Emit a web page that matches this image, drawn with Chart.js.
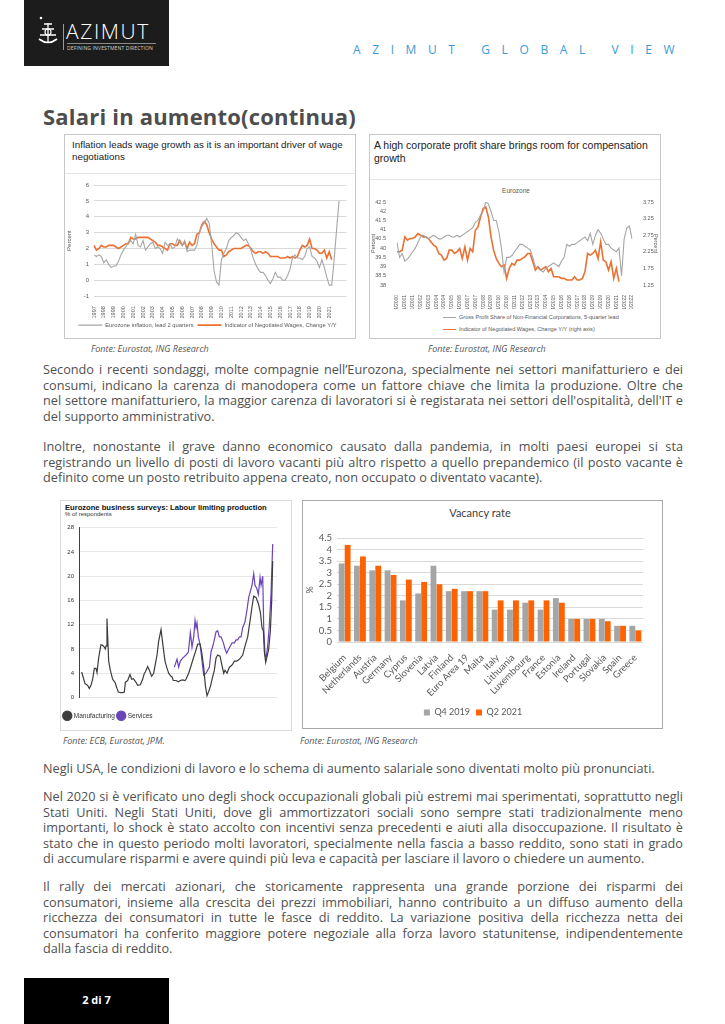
<!DOCTYPE html>
<html><head><meta charset="utf-8">
<script src="https://cdn.jsdelivr.net/npm/chart.js@4.4.1/dist/chart.umd.min.js"></script>
<style>
html,body{margin:0;padding:0;background:#fff;}
#page{position:relative;width:725px;height:1024px;overflow:hidden;font-family:'Open Sans',sans-serif;color:#4a4a4a;}
.a{position:absolute;}
.box{position:absolute;border:1px solid #c8c8c8;box-sizing:border-box;background:#fff;}
.para{position:absolute;left:43px;width:640px;font-size:12.7px;line-height:15.6px;color:#505050;}
.para div{white-space:nowrap;height:15.6px;}
.para .j span{display:inline-block;}
.fonte{position:absolute;font-size:9px;font-style:italic;color:#555;white-space:nowrap;}
.ctitle{position:absolute;font-family:'Liberation Sans',Arial,sans-serif;color:#222;white-space:nowrap;}
canvas{position:absolute;}
.lg{position:absolute;font-family:'Liberation Sans',Arial,sans-serif;font-size:5.6px;color:#595959;white-space:nowrap;line-height:8px;}
.lg i{display:inline-block;width:13px;vertical-align:middle;margin-right:3px;}
</style></head>
<body><div id="page">

<!-- header -->
<div class="a" style="left:24px;top:0;width:145px;height:66px;background:#1c1c1c;"></div>
<svg class="a" style="left:36px;top:15px" width="24" height="32" viewBox="0 0 24 32">
 <circle cx="5" cy="3" r="1.3" fill="#fff"/>
 <path d="M3 24 Q12 31 21 24" stroke="#fff" stroke-width="1.6" fill="none"/>
 <path d="M12 8 L12 27 M6 14 L18 14 M4 20 L20 20 M8 9 L16 9" stroke="#fff" stroke-width="1.3" fill="none"/>
 <circle cx="12" cy="17" r="3" stroke="#fff" stroke-width="1.2" fill="none"/>
</svg>
<div class="a" style="left:63px;top:24px;width:1px;height:26px;background:#9a9a9a;"></div>
<div class="a" style="left:66px;top:19px;font-size:21px;font-weight:300;color:#fff;letter-spacing:1.6px;line-height:24px;">AZIMUT</div>
<div class="a" style="left:67px;top:43px;width:89px;height:1px;background:#8a8a8a;"></div>
<div class="a" style="left:67px;top:44.5px;font-size:5.1px;color:#d0d0d0;line-height:6px;white-space:nowrap;letter-spacing:0.1px;">DEFINING INVESTMENT DIRECTION</div>
<div class="a" style="left:353px;top:42px;font-size:12px;font-weight:400;color:#3c9ad6;letter-spacing:11.6px;line-height:16px;white-space:nowrap;">AZIMUT GLOBAL VIEW</div>

<div class="a" style="left:43px;top:102px;font-size:22px;font-weight:700;color:#4d4d4d;line-height:28px;white-space:nowrap;letter-spacing:0.2px;">Salari in aumento(continua)</div>

<!-- chart 1 -->
<div class="box" style="left:64px;top:134px;width:292px;height:205px;"></div>
<div class="ctitle" style="left:72px;top:139px;font-size:9.8px;line-height:11.5px;">Inflation leads wage growth as it is an important driver of wage<br>negotiations</div>
<div class="a" style="left:65px;top:173px;width:290px;height:1px;background:#e4e4e4;"></div>
<canvas id="c1" width="290" height="162" style="left:65px;top:176px;width:290px;height:162px;"></canvas>

<!-- chart 2 -->
<div class="box" style="left:369px;top:134px;width:292px;height:205px;"></div>
<div class="ctitle" style="left:374px;top:139px;font-size:10.5px;line-height:13px;">A high corporate profit share brings room for compensation<br>growth</div>
<div class="a" style="left:370px;top:179px;width:290px;height:1px;background:#e4e4e4;"></div>
<div class="ctitle" style="left:466px;top:187px;width:100px;text-align:center;font-size:6.5px;line-height:8px;color:#595959;">Eurozone</div>
<canvas id="c2" width="290" height="128" style="left:369px;top:181px;width:290px;height:128px;"></canvas>
<div class="lg" style="left:443px;top:313px;"><i style="border-top:1.2px solid #a6a6a6;"></i>Gross Profit Share of Non-Financial Corporations, 5-quarter lead</div>
<div class="lg" style="left:443px;top:325px;"><i style="border-top:1.8px solid #ec7030;"></i>Indicator of Negotiated Wages, Change Y/Y (right axis)</div>

<div class="fonte" style="left:91px;top:342px;">Fonte: Eurostat, ING Research</div>
<div class="fonte" style="left:428px;top:342px;">Fonte: Eurostat, ING Research</div>

<div class="para" style="top:362px;">
<div class="j"><span>Secondo i recenti sondaggi, molte compagnie nell’Eurozona, specialmente nei settori manifatturiero e dei</span></div>
<div class="j"><span>consumi, indicano la carenza di manodopera come un fattore chiave che limita la produzione. Oltre che</span></div>
<div class="j"><span>nel settore manifatturiero, la maggior carenza di lavoratori si è registarata nei settori dell'ospitalità, dell'IT e</span></div>
<div><span>del supporto amministrativo.</span></div>
</div>
<div class="para" style="top:439px;">
<div class="j"><span>Inoltre, nonostante il grave danno economico causato dalla pandemia, in molti paesi europei si sta</span></div>
<div class="j"><span>registrando un livello di posti di lavoro vacanti più altro rispetto a quello prepandemico (il posto vacante è</span></div>
<div><span>definito come un posto retribuito appena creato, non occupato o diventato vacante).</span></div>
</div>

<!-- chart 3 -->
<div class="box" style="left:60px;top:500px;width:232px;height:231px;border-color:#dcdcdc;"></div>
<div class="ctitle" style="left:65px;top:503px;font-size:7.6px;font-weight:700;line-height:9px;color:#111;">Eurozone business surveys: Labour limiting production</div>
<div class="ctitle" style="left:65px;top:511px;font-size:6px;line-height:7px;color:#333;">% of respondents</div>
<canvas id="c3" width="230" height="210" style="left:61px;top:519px;width:230px;height:210px;"></canvas>

<!-- chart 4 -->
<div class="box" style="left:302px;top:500px;width:361px;height:229px;border-color:#a8a8a8;"></div>
<div class="ctitle" style="left:380px;top:506px;width:200px;text-align:center;font-family:Lato,sans-serif;font-size:11px;line-height:14px;color:#404040;">Vacancy rate</div>
<canvas id="c4" width="358" height="202" style="left:303px;top:525px;width:358px;height:202px;"></canvas>

<div class="fonte" style="left:63px;top:734px;">Fonte: ECB, Eurostat, JPM.</div>
<div class="fonte" style="left:300px;top:734px;">Fonte: Eurostat, ING Research</div>

<div class="para" style="top:761px;">
<div><span>Negli USA, le condizioni di lavoro e lo schema di aumento salariale sono diventati molto più pronunciati.</span></div>
</div>
<div class="para" style="top:789px;">
<div class="j"><span>Nel 2020 si è verificato uno degli shock occupazionali globali più estremi mai sperimentati, soprattutto negli</span></div>
<div class="j"><span>Stati Uniti. Negli Stati Uniti, dove gli ammortizzatori sociali sono sempre stati tradizionalmente meno</span></div>
<div class="j"><span>importanti, lo shock è stato accolto con incentivi senza precedenti e aiuti alla disoccupazione. Il risultato è</span></div>
<div class="j"><span>stato che in questo periodo molti lavoratori, specialmente nella fascia a basso reddito, sono stati in grado</span></div>
<div><span>di accumulare risparmi e avere quindi più leva e capacità per lasciare il lavoro o chiedere un aumento.</span></div>
</div>
<div class="para" style="top:879px;">
<div class="j"><span>Il rally dei mercati azionari, che storicamente rappresenta una grande porzione dei risparmi dei</span></div>
<div class="j"><span>consumatori, insieme alla crescita dei prezzi immobiliari, hanno contribuito a un diffuso aumento della</span></div>
<div class="j"><span>ricchezza dei consumatori in tutte le fasce di reddito. La variazione positiva della ricchezza netta dei</span></div>
<div class="j"><span>consumatori ha conferito maggiore potere negoziale alla forza lavoro statunitense, indipendentemente</span></div>
<div><span>dalla fascia di reddito.</span></div>
</div>

<!-- footer -->
<div class="a" style="left:24px;top:978px;width:145px;height:46px;background:#000;"></div>
<div class="a" style="left:24px;top:992px;width:145px;text-align:center;color:#fff;font-weight:700;font-size:11px;line-height:16px;">2 di 7</div>

</div>
<script>
// ---------- Chart 1 data: quarterly, 1997Q1 onward ----------
const wageYears = ['1997','1998','1999','2000','2001','2002','2003','2004','2005','2006','2007','2008','2009','2010','2011','2012','2013','2014','2015','2016','2017','2018','2019','2020','2021'];
const inflationLead2q = [1.6,1.5,1.6,1.5, 1.1,1.3,1.0,0.8, 0.9,0.9,1.2,1.6, 1.9,2.1,2.4,2.5, 2.3,2.9,2.2,2.1, 2.5,1.9,2.1,2.3, 2.4,2.0,2.1,2.0, 1.7,2.4,2.2,2.3, 2.0,2.1,2.6,2.4, 2.2,2.5,1.8,1.9, 1.9,1.9,2.2,3.0, 3.4,3.6,3.9,3.6, 2.3,0.6,-0.1,-0.3, 1.3,1.7,2.0,2.5, 2.7,2.8,3.0,2.9, 2.7,2.5,2.6,2.3, 1.9,1.4,1.0,0.7, 0.5,0.5,0.3,0.0, -0.2,0.1,0.5,0.2, 0.2,0.0,0.0,0.3, 0.7,1.4,1.6,1.4, 1.4,1.3,1.5,2.0, 2.1,1.5,1.4,1.2, 0.8,1.3,0.8,0.2, -0.3,-0.3,1.3,3.2, 5.0];
const negotiatedWagesYY = [2.2,1.9,2.0,2.2, 2.1,2.1,2.2,2.2, 2.2,2.1,2.0,2.1, 2.2,2.3,2.3,2.7, 2.6,2.6,2.7,2.7, 2.7,2.7,2.7,2.6, 2.5,2.4,2.2,2.2, 2.1,2.0,1.9,2.3, 2.3,2.2,2.2,2.5, 2.2,2.4,2.0,2.4, 2.2,2.3,2.9,3.0, 3.5,3.7,3.5,3.0, 2.6,2.3,2.1,1.9, 1.9,1.5,1.6,1.8, 1.9,2.0,2.0,2.0, 2.0,2.1,2.2,2.2, 2.0,1.8,1.7,1.8, 1.8,1.7,1.8,1.7, 1.5,1.5,1.5,1.5, 1.4,1.4,1.4,1.5, 1.4,1.5,1.4,1.5, 1.9,2.2,2.1,2.2, 2.6,2.0,2.0,1.9, 1.7,1.7,1.9,1.4, 1.8,1.3];

// ---------- Chart 2 data: quarterly from 04/2000 ----------
const profitTickLabels = ['04/2000','01/2001','10/2001','07/2002','04/2003','01/2004','10/2004','07/2005','04/2006','01/2007','10/2007','07/2008','04/2009','01/2010','10/2010','07/2011','04/2012','01/2013','10/2013','07/2014','04/2015','01/2016','10/2016','07/2017','04/2018','01/2019','10/2019','07/2020','04/2021','01/2022','10/2022'];
const grossProfitShareLead5q = [40.3,39.5,39.7,39.3,39.4,39.6,39.8,40.0,40.3,40.6, 40.7,40.6,40.5,40.6,40.7,40.6,40.5,40.5,40.6,40.7, 40.7,40.6,40.6,40.7,40.6,40.7,40.8,40.9,41.0,41.1, 41.4,41.5,41.8,42.0,42.5,42.4,42.0,41.5,41.5,40.9, 40.0,38.7,39.5,39.5,39.6,39.8,40.0,40.2,40.2,40.1, 40.0,39.9,39.5,39.0,38.9,38.8,38.7,38.9,39.0,39.1, 39.2,39.1,39.0,39.3,39.5,40.2,40.1,40.2,40.2,40.3, 40.4,40.5,40.6,40.4,40.8,40.2,40.7,41.0,40.8,40.5, 40.2,40.2,40.0,39.9,39.8,40.0,38.5,40.5,41.1,41.2, 40.5];
const negotiatedWagesRight = [2.25,2.25,2.3,2.7,2.6,2.65,2.65,2.7,2.8,2.75, 2.7,2.7,2.65,2.55,2.45,2.4,2.2,2.15,2.0,2.05, 2.3,2.3,2.2,2.25,2.35,2.05,2.4,2.0,2.35,2.25, 2.9,3.0,3.3,3.55,3.6,3.3,2.7,2.3,2.05,1.9, 1.8,1.85,1.45,1.75,1.9,1.85,2.0,2.0,2.05,2.1, 2.2,2.2,1.95,1.7,1.8,1.7,1.75,1.8,1.65,1.75, 1.5,1.5,1.5,1.45,1.45,1.4,1.4,1.4,1.5,1.4, 1.4,1.45,1.65,2.2,2.15,2.2,2.3,2.05,2.55,2.0, 1.95,1.7,1.95,1.45,1.75,1.35];

// ---------- Chart 3 data ----------
const surveyTickYears = [1985,1988,1991,1994,1997,2000,2003,2006,2009,2012,2015,2018,2021];
const surveyTickLabels = ["'85","'88","'91","'94","'97","'00","'03","'06","'09","'12","'15","'18","'21"];
const manufacturingYears = [1985.00,1985.63,1986.13,1986.44,1986.76,1987.07,1987.39,1987.70,1987.89,1988.20, 1988.45,1988.64,1988.96,1989.27,1989.46,1989.59,1989.77,1990.09,1990.40,1990.84, 1991.28,1991.66,1991.91,1992.41,1992.73,1993.04,1993.23,1993.67,1994.11,1994.42, 1994.74,1995.24,1995.55,1996.06,1996.49,1996.81,1997.00,1997.44,1997.75,1998.19, 1998.57,1998.88,1999.20,1999.51,1999.95,2000.26,2000.70,2001.02,2001.39,2001.83, 2002.02,2002.27,2002.78,2003.22,2003.59,2004.03,2004.47,2004.66,2005.16,2005.60, 2005.98,2006.42,2006.86,2007.30,2007.61,2007.99,2008.30,2008.62,2008.93,2009.25, 2009.56,2010.00,2010.31,2010.63,2011.07,2011.38,2011.76,2012.01,2012.39,2012.83, 2013.14,2013.46,2013.77,2014.21,2014.59,2014.90,2015.34,2015.78,2016.28,2016.78, 2017.10,2017.41,2017.85,2018.29,2018.67,2018.98,2019.23,2019.42,2019.67,2019.86, 2020.24,2020.55,2020.80,2020.99];
const manufacturingValues = [4.2,2.3,2.0,1.5,2.0,3.0,4.8,4.8,4.1,6.5, 7.8,8.7,8.6,8.3,8.0,8.5,13.0,6.0,4.5,3.0, 2.5,1.5,0.9,0.8,0.8,0.9,2.5,2.8,3.8,3.0, 3.1,2.5,2.0,2.1,3.0,4.0,4.2,5.1,4.5,3.5, 4.0,5.5,7.0,9.3,11.2,9.0,6.0,5.0,4.0,3.5, 3.4,2.8,2.8,2.6,2.8,2.9,2.8,3.0,4.0,5.2, 6.3,7.5,8.8,8.8,7.5,5.0,2.0,0.3,1.0,1.8, 3.0,4.5,6.5,7.0,6.8,5.5,4.0,4.5,4.0,5.0, 5.2,5.5,6.0,6.0,6.2,6.5,7.0,8.5,10.0,13.0, 15.0,16.7,16.5,15.5,14.0,11.5,11.0,7.5,5.8,6.5, 8.0,11.0,16.0,22.5];
const servicesYears = [2002.46,2002.96,2003.28,2003.59,2004.03,2004.66,2005.10,2005.48,2005.79,2006.11, 2006.36,2006.55,2006.73,2006.98,2007.36,2007.68,2007.99,2008.43,2008.74,2009.06, 2009.37,2009.87,2010.31,2010.63,2010.94,2011.26,2011.70,2012.01,2012.32,2012.70, 2013.02,2013.33,2013.77,2014.08,2014.40,2014.71,2015.03,2015.34,2015.78,2016.16, 2016.47,2016.78,2017.10,2017.41,2017.66,2017.98,2018.29,2018.61,2018.80,2019.11, 2019.30,2019.55,2019.74,2020.05,2020.36,2020.67,2020.99];
const servicesValues = [5.0,6.3,5.0,6.0,6.5,7.0,7.5,10.7,8.3,10.0, 12.7,11.5,12.3,10.0,8.5,6.0,3.7,4.0,4.5,5.0, 7.5,9.0,10.8,11.0,10.0,10.0,9.0,8.0,7.3,8.0, 8.5,9.0,9.0,9.5,9.5,10.0,10.0,11.5,12.5,14.5, 16.5,17.5,18.5,20.4,18.5,18.0,17.0,19.8,18.5,20.0, 11.5,7.0,6.5,8.5,12.0,17.0,25.3];

// ---------- Chart 4 data ----------
const countries = ['Belgium','Netherlands','Austria','Germany','Cyprus','Slovenia','Latvia','Finland','Euro Area 19','Malta','Italy','Lithuania','Luxembourg','France','Estonia','Ireland','Portugal','Slovakia','Spain','Greece'];
const vacancyQ42019 = [3.4,3.3,3.1,3.1,1.8,2.1,3.3,2.2,2.2,2.2,1.4,1.4,1.7,1.4,1.9,1.0,1.0,1.0,0.7,0.7];
const vacancyQ22021 = [4.2,3.7,3.3,2.9,2.7,2.6,2.5,2.3,2.2,2.2,1.8,1.8,1.8,1.8,1.7,1.0,1.0,0.9,0.7,0.5];

Chart.defaults.font.family = "'Liberation Sans', Arial, sans-serif";
Chart.defaults.color = '#595959';
Chart.defaults.animation = false;
Chart.defaults.plugins.tooltip.enabled = false;
const num = v => String(+Number(v).toFixed(2));

// Chart 1
const c1Labels = [];
wageYears.forEach(y => c1Labels.push(y, '', '', ''));
c1Labels.push('', '', '', '');
new Chart(document.getElementById('c1'), {
  type: 'line',
  data: { labels: c1Labels, datasets: [
    { label: 'Eurozone inflation, lead 2 quarters', data: inflationLead2q, borderColor: '#a6a6a6', backgroundColor: '#a6a6a6', borderWidth: 1.1, pointRadius: 0, pointStyle: 'line' },
    { label: 'Indicator of Negotiated Wages, Change Y/Y', data: negotiatedWagesYY, borderColor: '#ec7030', backgroundColor: '#ec7030', borderWidth: 1.6, pointRadius: 0, pointStyle: 'line' }
  ]},
  options: {
    responsive: false,
    layout: { padding: { top: 9, right: 5, left: 0, bottom: 0 } },
    plugins: { legend: { position: 'bottom', labels: { usePointStyle: true, pointStyle: 'line', pointStyleWidth: 24, font: { size: 5.8 }, padding: 4, color: '#595959' } } },
    scales: {
      x: { grid: { display: false }, border: { display: false },
           ticks: { autoSkip: false, minRotation: 90, maxRotation: 90, font: { size: 5.5 }, padding: 2,
                    callback: function(v) { return this.getLabelForValue(v); } },
           afterFit: s => { s.height = 22; } },
      y: { min: -1, max: 6, ticks: { stepSize: 1, autoSkip: false, font: { size: 6 }, padding: 5 },
           grid: { color: '#d9d9d9', drawTicks: false }, border: { display: false },
           title: { display: true, text: 'Percent', font: { size: 6 }, padding: 1 },
           afterFit: s => { s.width = 29; } }
    }
  }
});

// Chart 2
const c2Labels = [];
profitTickLabels.forEach((t, i) => { c2Labels.push(t); if (i < profitTickLabels.length - 1) c2Labels.push('', ''); });
new Chart(document.getElementById('c2'), {
  type: 'line',
  data: { labels: c2Labels, datasets: [
    { label: 'Gross Profit Share of Non-Financial Corporations, 5-quarter lead', data: grossProfitShareLead5q, yAxisID: 'yL', borderColor: '#a6a6a6', borderWidth: 1.1, pointRadius: 0 },
    { label: 'Indicator of Negotiated Wages, Change Y/Y (right axis)', data: negotiatedWagesRight, yAxisID: 'yR', borderColor: '#ec7030', borderWidth: 1.6, pointRadius: 0 }
  ]},
  options: {
    responsive: false,
    layout: { padding: { top: 21, right: 0, left: 0, bottom: 0 } },
    plugins: { legend: { display: false } },
    scales: {
      x: { grid: { display: false }, border: { display: false },
           ticks: { autoSkip: false, minRotation: 90, maxRotation: 90, font: { size: 5 }, padding: 2,
                    callback: function(v) { return this.getLabelForValue(v); } },
           afterFit: s => { s.height = 24; } },
      yL: { position: 'left', min: 38, max: 42.5, grid: { display: false }, border: { display: false },
            ticks: { stepSize: 0.5, autoSkip: false, font: { size: 5.5 }, padding: 3, callback: num },
            title: { display: true, text: 'Percent', font: { size: 5.5 }, padding: 1 },
            afterFit: s => { s.width = 28; } },
      yR: { position: 'right', min: 1.25, max: 3.75, grid: { display: false }, border: { display: false },
            ticks: { stepSize: 0.5, autoSkip: false, font: { size: 5.5 }, padding: 3, callback: num },
            title: { display: true, text: 'Percent', font: { size: 5.5 }, padding: 0 },
            afterFit: s => { s.width = 27; } }
    }
  }
});

// Chart 3
new Chart(document.getElementById('c3'), {
  type: 'line',
  data: { datasets: [
    { label: 'Manufacturing', data: manufacturingYears.map((x, i) => ({ x: x, y: manufacturingValues[i] })), borderColor: '#3d3d3d', backgroundColor: '#3d3d3d', borderWidth: 1.2, pointRadius: 0, pointStyle: 'circle' },
    { label: 'Services', data: servicesYears.map((x, i) => ({ x: x, y: servicesValues[i] })), borderColor: '#6a44b8', backgroundColor: '#6a44b8', borderWidth: 1.2, pointRadius: 0, pointStyle: 'circle' }
  ]},
  options: {
    responsive: false,
    layout: { padding: { top: 5, right: 14, left: 0, bottom: 0 } },
    plugins: { legend: { position: 'bottom', align: 'start', labels: { usePointStyle: true, boxWidth: 8, boxHeight: 8, font: { size: 6.5 }, padding: 3, color: '#333' } } },
    scales: {
      x: { type: 'linear', min: 1984.5, max: 2021.8, grid: { display: false }, border: { display: false },
           afterBuildTicks: s => { s.ticks = surveyTickYears.map(v => ({ value: v })); },
           ticks: { autoSkip: false, maxRotation: 0, font: { size: 6 }, padding: 3, color: '#333',
                    callback: v => surveyTickLabels[surveyTickYears.indexOf(v)] },
           afterFit: s => { s.height = 12; } },
      y: { min: 0, max: 28, ticks: { stepSize: 4, autoSkip: false, font: { size: 6 }, padding: 5, color: '#333' },
           grid: { color: '#e6e6e6', drawTicks: false }, border: { display: true, color: '#404040', width: 1 },
           afterFit: s => { s.width = 18; } }
    }
  }
});

// Chart 4
new Chart(document.getElementById('c4'), {
  type: 'bar',
  data: { labels: countries, datasets: [
    { label: 'Q4 2019', data: vacancyQ42019, backgroundColor: '#a5a5a5', barPercentage: 0.98, categoryPercentage: 0.78 },
    { label: 'Q2 2021', data: vacancyQ22021, backgroundColor: '#ff6200', barPercentage: 0.98, categoryPercentage: 0.78 }
  ]},
  options: {
    responsive: false,
    layout: { padding: { top: 13, right: 18, left: 0, bottom: 0 } },
    plugins: { legend: { position: 'bottom', labels: { boxWidth: 6, boxHeight: 6, font: { size: 9, family: 'Lato' }, padding: 6, color: '#595959' } } },
    scales: {
      x: { grid: { display: false }, border: { display: false },
           ticks: { autoSkip: false, minRotation: 45, maxRotation: 45, font: { size: 9.5, family: 'Lato' }, padding: 2, color: '#595959' },
           afterFit: s => { s.height = 60; } },
      y: { min: 0, max: 4.5, ticks: { stepSize: 0.5, autoSkip: false, font: { size: 9.5, family: 'Lato' }, padding: 5, color: '#595959', callback: num },
           grid: { color: '#d9d9d9', drawTicks: false }, border: { display: false },
           title: { display: true, text: '%', font: { size: 9, family: 'Lato' }, padding: 2 },
           afterFit: s => { s.width = 34; } }
    }
  }
});

// justify body lines to the 640px column
function justify() {
  document.querySelectorAll('.para .j span').forEach(sp => {
    sp.style.wordSpacing = '0px';
    const w = sp.getBoundingClientRect().width;
    const n = (sp.textContent.match(/ /g) || []).length;
    if (n) sp.style.wordSpacing = ((640 - w) / n) + 'px';
  });
}
justify();
if (document.fonts && document.fonts.ready) document.fonts.ready.then(justify);
</script>
</body></html>
